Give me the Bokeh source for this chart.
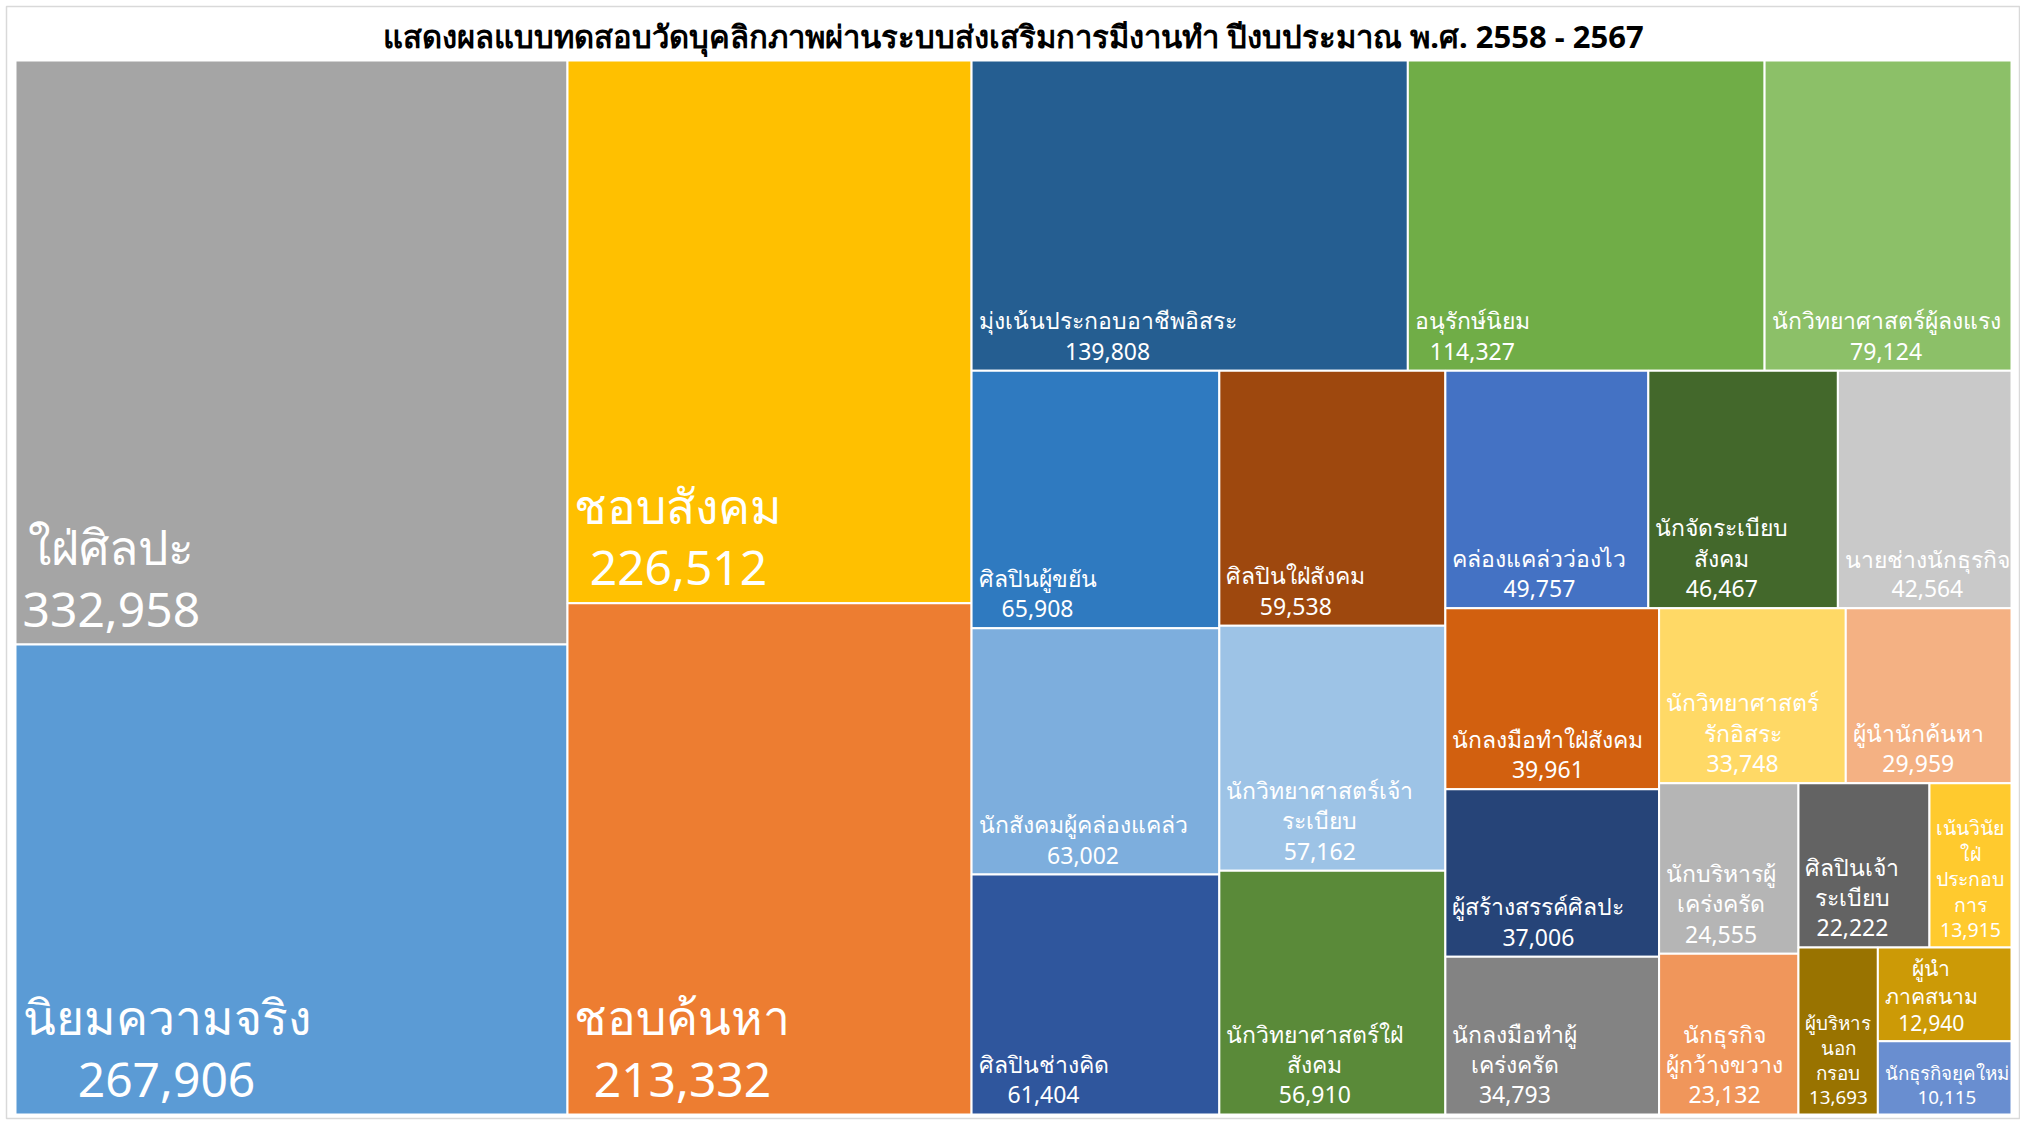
from bokeh.plotting import figure
from bokeh.models import Range1d, ColumnDataSource
from bokeh.core.properties import value
from bokeh.embed import file_html
from bokeh.resources import INLINE

TITLE = "แสดงผลแบบทดสอบวัดบุคลิกภาพผ่านระบบส่งเสริมการมีงานทำ ปีงบประมาณ พ.ศ. 2558 - 2567"

# category labels (line breaks as wrapped in the chart)
names = [
    "ใฝ่ศิลปะ", "นิยมความจริง", "ชอบสังคม", "ชอบค้นหา",
    "มุ่งเน้นประกอบอาชีพอิสระ", "อนุรักษ์นิยม", "นักวิทยาศาสตร์ผู้ลงแรง",
    "ศิลปินผู้ขยัน", "นักสังคมผู้คล่องแคล่ว", "ศิลปินช่างคิด",
    "ศิลปินใฝ่สังคม", "นักวิทยาศาสตร์เจ้า\nระเบียบ", "นักวิทยาศาสตร์ใฝ่\nสังคม",
    "คล่องแคล่วว่องไว", "นักจัดระเบียบ\nสังคม", "นายช่างนักธุรกิจ",
    "นักลงมือทำใฝ่สังคม", "ผู้สร้างสรรค์ศิลปะ", "นักลงมือทำผู้\nเคร่งครัด",
    "นักวิทยาศาสตร์\nรักอิสระ", "ผู้นำนักค้นหา",
    "นักบริหารผู้\nเคร่งครัด", "นักธุรกิจ\nผู้กว้างขวาง",
    "ศิลปินเจ้า\nระเบียบ", "เน้นวินัย\nใฝ่\nประกอบ\nการ",
    "ผู้บริหาร\nนอก\nกรอบ", "ผู้นำ\nภาคสนาม", "นักธุรกิจยุคใหม่",
]
values = [
    332958, 267906, 226512, 213332,
    139808, 114327, 79124,
    65908, 63002, 61404,
    59538, 57162, 56910,
    49757, 46467, 42564,
    39961, 37006, 34793,
    33748, 29959,
    24555, 23132,
    22222, 13915,
    13693, 12940, 10115,
]
colors = [
    "#A5A5A5", "#5B9BD5", "#FFC000", "#ED7D31",
    "#255E91", "#70AD47", "#8CC068",
    "#2F7AC0", "#7DAEDD", "#2F569D",
    "#9E480E", "#9DC3E6", "#5A8A39",
    "#4472C4", "#43682B", "#C9C9C9",
    "#D2600F", "#264478", "#838383",
    "#FFD966", "#F4B183",
    "#B5B5B5", "#F0965B",
    "#636363", "#FFCA2E",
    "#997300", "#CC9A06", "#698ED0",
]
# strip grouping of the squarified layout (items per strip, in order)
STRIPS = [2, 2, 3, 3, 3, 3, 3, 2, 2, 2, 1, 1, 1]

W, H = 2020, 1120
X0, Y0, TW, TH = 15.0, 60.0, 1996.0, 1054.0


def strip_layout(vals, strips, x0, y0, w, h):
    rects = []
    i = 0
    for g in strips:
        grp = vals[i:i + g]
        s = float(sum(grp))
        rem = float(sum(vals[i:]))
        if w >= h:
            cw = w * s / rem
            yy = y0
            for v in grp:
                hh = h * v / s
                rects.append((x0, x0 + cw, yy, yy + hh))
                yy += hh
            x0 += cw
            w -= cw
        else:
            rh = h * s / rem
            xx = x0
            for v in grp:
                ww = w * v / s
                rects.append((xx, xx + ww, y0, y0 + rh))
                xx += ww
            y0 += rh
            h -= rh
        i += g
    return rects


def est_width(line, fs):
    base = [c for c in line if not ("\u0e31" == c or "\u0e34" <= c <= "\u0e3a" or "\u0e47" <= c <= "\u0e4e")]
    return len(base) * 0.58 * fs


rects = strip_layout(values, STRIPS, X0, Y0, TW, TH)
L = [r[0] for r in rects]
R = [r[1] for r in rects]
T = [r[2] for r in rects]
B = [r[3] for r in rects]

labels, lx, ly, fsz = [], [], [], []
for n, v, (l, r, t, b) in zip(names, values, rects):
    lines = n.split("\n") + [f"{v:,}"]
    pad = 7
    if v >= 200000:
        fs = 48.0
    else:
        fs = 23.0
        widest = max(est_width(s, 1.0) for s in lines)
        fs = min(fs, (r - l - 2 * pad) / widest,
                 (b - t - 8) / (len(lines) * 1.35))
    labels.append("\n".join(lines))
    lx.append(l + pad)
    ly.append(b - 4)
    fsz.append(f"{fs:.1f}px")

src = ColumnDataSource(dict(left=L, right=R, top=T, bottom=B, color=colors,
                            label=labels, lx=lx, ly=ly, fs=fsz))

p = figure(width=W, height=H, output_backend="svg", toolbar_location=None,
           x_range=Range1d(0, W), y_range=Range1d(H, 0),
           x_axis_location=None, y_axis_location=None,
           min_border=0, outline_line_color=None)
p.grid.visible = False
p.background_fill_color = "white"
p.border_fill_color = "white"

# chart border
p.quad(left=[6], right=[2019], top=[6], bottom=[1118],
       fill_color=None, line_color="#D9D9D9", line_width=1.5)

p.quad(left="left", right="right", top="top", bottom="bottom", source=src,
       fill_color="color", line_color="white", line_width=2)

p.text(x="lx", y="ly", text="label", source=src,
       text_font=value("Noto Sans"), text_font_size="fs",
       text_color="white", text_align="center",
       anchor=value("bottom_left"), text_line_height=0.95)

p.text(x=[1013], y=[35], text=[TITLE],
       text_font=value("Noto Sans"), text_font_size="31px",
       text_font_style="bold", text_color="#000000",
       text_align="center", text_baseline="middle")

open("out.html", "w").write(file_html(p, INLINE))
